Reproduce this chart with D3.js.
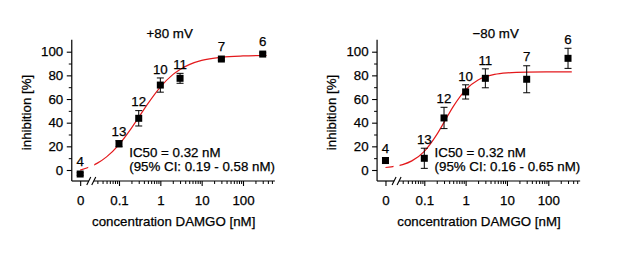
<!DOCTYPE html>
<html>
<head>
<meta charset="utf-8">
<script src="https://cdn.jsdelivr.net/npm/d3@7"></script>
<style>
  html, body { margin: 0; padding: 0; background: #fff; }
  svg { display: block; }
  text { font-family: "Liberation Sans", Arial, sans-serif; fill: #000; stroke: #000; stroke-width: 0.25px; }
</style>
</head>
<body>
<svg id="chart" width="617" height="263"></svg>
<script>
// ---------- data ----------
const concentrations = [0, 0.1, 0.3, 1, 3, 30, 300];          // nM (0 = control, drawn left of break)
const nLabels = [4, 13, 12, 10, 11, 7, 6];

const inhibitionPos80 = [-3.4, 22.2, 43.7, 71.8, 77.5, 93.8, 98.0];
const errorPos80      = [1.0, 2.6, 6.5, 6.0, 4.2, 1.0, 1.0];

const inhibitionNeg80 = [8.0, 9.9, 44.0, 66.0, 77.5, 76.7, 94.4];
const errorNeg80      = [2.5, 8.5, 9.0, 6.0, 8.0, 11.4, 8.5];

// fitted curves
const curveConc   = [0.0115, 0.02, 0.03, 0.05, 0.1, 0.2, 0.3, 0.5, 1, 2, 3, 5, 10, 30, 100, 370];
const curvePos80  = [-0.1, 2.8, 5.8, 11.1, 21.5, 35.4, 44.5, 56.1, 70.1, 80.6, 85.0, 89.1, 92.6, 95.3, 96.4, 96.8];
const curveNeg80  = [2.1, 3.2, 4.6, 7.7, 15.8, 29.9, 40.3, 53.6, 67.8, 76.1, 78.8, 80.8, 82.1, 82.8, 82.95, 83.0];

const yTicks = [0, 20, 40, 60, 80, 100];
const yMinorTicks = [10, 30, 50, 70, 90];
const xTickLabels = ["0", "0.1", "1", "10", "100"];
const xMajorTicks = [0, 0.1, 1, 10, 100];

const titles = ["+80 mV", "\u221280 mV"];
const ic50Text = ["IC50 = 0.32 nM", "IC50 = 0.32 nM"];
const ciText = ["(95% CI: 0.19 - 0.58 nM)", "(95% CI: 0.16 - 0.65 nM)"];
const xLabel = "concentration DAMGO [nM]";
const yLabel = "inhibition [%]";

// ---------- layout ----------
const svg = d3.select("#chart");
const FS = 13.3;
const zeroConc = 0.0115;     // where the "0" control sits on the log axis
const panelOffsets = [0, 305.3];
const titleX = [169.7, 190.4];

const y = d3.scaleLinear().domain([0, 100]).range([170, 51.7]);
const xLog = d3.scaleLog().domain([0.1, 100]).range([119, 243]);
const xPos = c => xLog(c === 0 ? zeroConc : c);
const yAxisX = xLog(0.0072);
const breakX = xLog(0.0213);
const axisEndX = xLog(590);
const yBottom = y(-9.3);
const yTop = y(110);

const minorX = [];
[0.01, 0.1, 1, 10, 100].forEach(d => { for (let k = 2; k <= 9; k++) { const v = d * k; if (v > 0.025 && v < 600) minorX.push(v); } });

const panels = [
  { values: inhibitionPos80, errors: errorPos80, curve: curvePos80 },
  { values: inhibitionNeg80, errors: errorNeg80, curve: curveNeg80 }
];

panels.forEach((p, i) => {
  const g = svg.append("g").attr("transform", `translate(${panelOffsets[i]},0)`);

  // clip for curve (gap at axis break)
  const clipId = "clip" + i;
  const cp = g.append("clipPath").attr("id", clipId);
  cp.append("rect").attr("x", yAxisX).attr("y", 0).attr("width", breakX - 3 - yAxisX).attr("height", yBottom);
  cp.append("rect").attr("x", breakX + 3).attr("y", 0).attr("width", 400).attr("height", yBottom);

  // y axis
  const ya = g.append("g").attr("transform", `translate(${yAxisX},0)`)
    .call(d3.axisLeft(y).tickValues(yTicks).tickSize(5).tickPadding(3.5).tickFormat(d3.format("d")));
  ya.select(".domain").remove();
  ya.selectAll("text").attr("font-size", FS).style("font-family", '"Liberation Sans", Arial, sans-serif').attr("fill", "#000");
  ya.selectAll("line").attr("stroke-width", 1.1);
  const yam = g.append("g").attr("transform", `translate(${yAxisX},0)`)
    .call(d3.axisLeft(y).tickValues(yMinorTicks).tickSize(3).tickFormat(""));
  yam.select(".domain").remove();
  g.append("line").attr("x1", yAxisX).attr("x2", yAxisX).attr("y1", yTop).attr("y2", yBottom)
    .attr("stroke", "#000").attr("stroke-width", 1.2);

  // x axis
  const xa = g.append("g").attr("transform", `translate(0,${yBottom})`)
    .call(d3.axisBottom(xLog).tickValues(xMajorTicks.map(c => c === 0 ? zeroConc : c))
      .tickSize(5).tickPadding(10).tickFormat((d, j) => xTickLabels[j]));
  xa.select(".domain").remove();
  xa.selectAll("text").attr("font-size", FS).style("font-family", '"Liberation Sans", Arial, sans-serif').attr("fill", "#000");
  xa.selectAll("line").attr("stroke-width", 1.1);
  const xam = g.append("g").attr("transform", `translate(0,${yBottom})`)
    .call(d3.axisBottom(xLog).tickValues(minorX).tickSize(3).tickFormat(""));
  xam.select(".domain").remove();
  g.append("line").attr("x1", yAxisX).attr("x2", breakX - 2.5).attr("y1", yBottom).attr("y2", yBottom)
    .attr("stroke", "#000").attr("stroke-width", 1.2);
  g.append("line").attr("x1", breakX + 2.5).attr("x2", axisEndX).attr("y1", yBottom).attr("y2", yBottom)
    .attr("stroke", "#000").attr("stroke-width", 1.2);
  [breakX - 2.5, breakX + 2.5].forEach(bx => {
    g.append("line").attr("x1", bx - 2).attr("x2", bx + 2).attr("y1", yBottom + 4).attr("y2", yBottom - 4)
      .attr("stroke", "#000").attr("stroke-width", 1.1);
  });

  // fitted curve
  const line = d3.line().x((d, j) => xLog(curveConc[j])).y(d => y(d)).curve(d3.curveMonotoneX);
  g.append("path").datum(p.curve).attr("d", line).attr("fill", "none")
    .attr("stroke", "#e3191c").attr("stroke-width", 1.2).attr("clip-path", `url(#${clipId})`);

  // error bars + markers + n labels
  concentrations.forEach((c, j) => {
    const cx = xPos(c), v = p.values[j], e = p.errors[j];
    g.append("line").attr("x1", cx).attr("x2", cx).attr("y1", y(v - e)).attr("y2", y(v + e)).attr("stroke", "#000").attr("stroke-width", 1);
    [v - e, v + e].forEach(t => g.append("line").attr("x1", cx - 3.5).attr("x2", cx + 3.5).attr("y1", y(t)).attr("y2", y(t)).attr("stroke", "#000").attr("stroke-width", 1));
    g.append("rect").attr("x", cx - 3.5).attr("y", y(v) - 3.5).attr("width", 7).attr("height", 7).attr("fill", "#000");
    const top = Math.min(y(v + e), y(v) - 3.5);
    g.append("text").attr("x", cx).attr("y", top - 4.3).attr("text-anchor", "middle").attr("font-size", FS).text(nLabels[j]);
  });

  // texts
  g.append("text").attr("x", titleX[i]).attr("y", 37.5).attr("text-anchor", "middle").attr("font-size", FS).text(titles[i]);
  g.append("text").attr("x", 129.3).attr("y", 156.5).attr("font-size", FS).text(ic50Text[i]);
  g.append("text").attr("x", 129.3).attr("y", 170.5).attr("font-size", FS).text(ciText[i]);
  g.append("text").attr("x", 173.7).attr("y", 225.5).attr("text-anchor", "middle").attr("font-size", FS).text(xLabel);
  g.append("text").attr("transform", `translate(31,112.5) rotate(-90)`).attr("text-anchor", "middle").attr("font-size", FS).text(yLabel);
});
</script>
</body>
</html>
